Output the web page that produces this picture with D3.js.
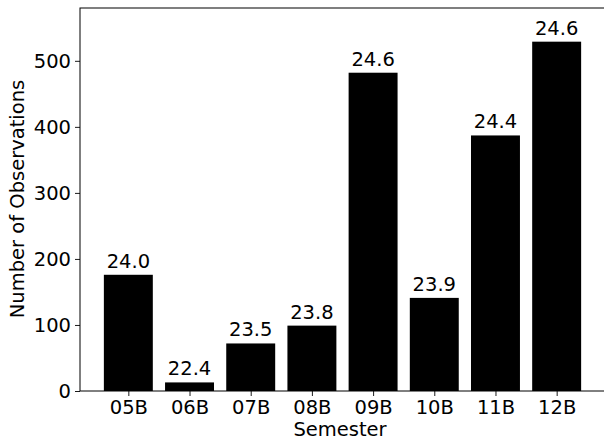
<!DOCTYPE html>
<html><head><meta charset="utf-8">
<script src="https://cdn.jsdelivr.net/npm/d3@7"></script>
<style>body{margin:0;background:#fff}svg{display:block}text{font-family:"DejaVu Sans",sans-serif;fill:#000}</style>
</head><body>
<script>
const semesters = ["05B","06B","07B","08B","09B","10B","11B","12B"];
const counts = [176, 13, 72, 99, 482, 141, 387, 529];
const barLabels = ["24.0","22.4","23.5","23.8","24.6","23.9","24.4","24.6"];
const yTicks = [0,100,200,300,400,500];

(function(){
const W=604,H=441;
const mLeft=80, mTop=8, mBottom=391, mRight=605;
const svg=d3.select("body").append("svg").attr("width",W).attr("height",H);
const x=d3.scaleLinear().domain([-0.79,7.79]).range([mLeft,mRight]);
const y=d3.scaleLinear().domain([0,580]).range([mBottom,mTop]);
const bw=x(0.8)-x(0);
const fs=19.5;

svg.selectAll("rect.bar").data(counts).join("rect").attr("class","bar")
 .attr("x",(d,i)=>x(i)-bw/2).attr("width",bw)
 .attr("y",d=>y(d)).attr("height",d=>y(0)-y(d)).attr("fill","#000");

svg.selectAll("text.bl").data(counts).join("text").attr("class","bl")
 .attr("x",(d,i)=>x(i)).attr("y",d=>y(d)-7).attr("text-anchor","middle")
 .attr("font-size",fs).text((d,i)=>barLabels[i]);

const ya=d3.axisLeft(y).tickValues(yTicks).tickSize(5).tickPadding(4);
const gy=svg.append("g").attr("transform",`translate(${mLeft},0)`).call(ya);
const xa=d3.axisBottom(x).tickValues(d3.range(semesters.length)).tickFormat(i=>semesters[i]).tickSize(5).tickPadding(4);
const gx=svg.append("g").attr("transform",`translate(0,${mBottom})`).call(xa);
[gy,gx].forEach(g=>{g.selectAll("text").attr("font-size",fs).style("font-family","DejaVu Sans");
 g.selectAll("line").attr("stroke","#000").attr("stroke-width",0.9);
 g.select(".domain").remove();});
svg.append("rect").attr("x",mLeft).attr("y",mTop).attr("width",W+5-mLeft).attr("height",mBottom-mTop)
 .attr("fill","none").attr("stroke","#000").attr("stroke-width",1);

svg.append("text").attr("x",340).attr("y",436).attr("text-anchor","middle").attr("font-size",fs).text("Semester");
svg.append("text").attr("transform",`translate(24,199) rotate(-90)`).attr("text-anchor","middle").attr("font-size",fs).text("Number of Observations");
})();
</script>
</body></html>
